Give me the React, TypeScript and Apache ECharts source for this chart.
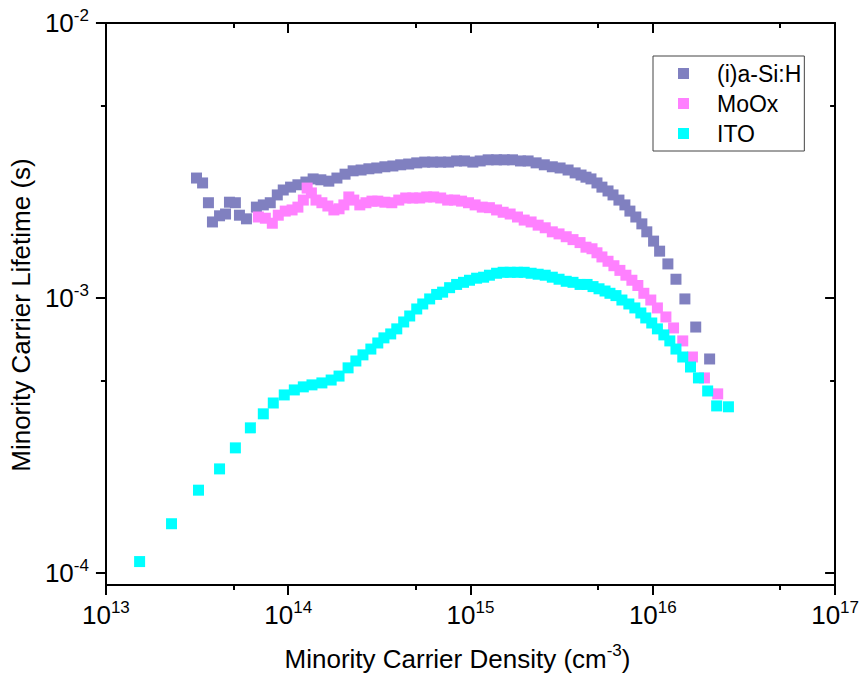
import React, { useEffect, useRef } from "react";
import * as echarts from "echarts";

const seriesNames = ["(i)a-Si:H", "MoOx", "ITO"];
const seriesColors = ["#8080C0", "#FF80FF", "#00FFFF"];

const aSiDensity = [
  3.14e13, 3.39e13, 3.65e13, 3.84e13, 4.2e13, 4.53e13, 4.76e13, 5.13e13, 5.4e13, 5.9e13,
  6.69e13, 7.3e13, 7.97e13, 8.71e13, 9.39e13, 1.03e14, 1.13e14, 1.25e14, 1.37e14, 1.51e14,
  1.67e14, 1.85e14, 2.05e14, 2.27e14, 2.51e14, 2.77e14, 3.06e14, 3.39e14, 3.75e14, 4.14e14,
  4.58e14, 5.07e14, 5.61e14, 6.2e14, 6.86e14, 7.58e14, 8.39e14, 9.27e14, 1.03e15, 1.13e15,
  1.25e15, 1.39e15, 1.53e15, 1.7e15, 1.88e15, 2.07e15, 2.29e15, 2.54e15, 2.81e15, 3.1e15,
  3.43e15, 3.75e15, 4.04e15, 4.3e15, 4.58e15, 4.94e15, 5.26e15, 5.68e15, 6.05e15, 6.52e15,
  7.03e15, 7.49e15, 8.07e15, 8.71e15, 9.27e15, 1.01e16, 1.09e16, 1.21e16, 1.34e16, 1.5e16,
  1.72e16, 2.05e16,
];
const aSiLifetime = [
  2.73e-3, 2.62e-3, 2.22e-3, 1.89e-3, 1.99e-3, 2.02e-3, 2.23e-3, 2.22e-3, 2.0e-3, 1.94e-3,
  2.14e-3, 2.18e-3, 2.22e-3, 2.37e-3, 2.47e-3, 2.53e-3, 2.58e-3, 2.64e-3, 2.71e-3, 2.69e-3,
  2.66e-3, 2.73e-3, 2.82e-3, 2.9e-3, 2.92e-3, 2.95e-3, 2.97e-3, 3.0e-3, 3.02e-3, 3.05e-3,
  3.07e-3, 3.1e-3, 3.12e-3, 3.12e-3, 3.12e-3, 3.12e-3, 3.15e-3, 3.15e-3, 3.12e-3, 3.15e-3,
  3.18e-3, 3.18e-3, 3.18e-3, 3.18e-3, 3.15e-3, 3.15e-3, 3.1e-3, 3.05e-3, 3.0e-3, 2.97e-3,
  2.92e-3, 2.85e-3, 2.8e-3, 2.75e-3, 2.71e-3, 2.62e-3, 2.53e-3, 2.45e-3, 2.37e-3, 2.27e-3,
  2.18e-3, 2.07e-3, 1.97e-3, 1.86e-3, 1.74e-3, 1.61e-3, 1.48e-3, 1.33e-3, 1.17e-3, 9.92e-4,
  7.84e-4, 6.0e-4,
];

const moOxDensity = [
  6.86e13, 7.49e13, 8.18e13, 8.82e13, 9.63e13, 1.05e14, 1.13e14, 1.21e14, 1.27e14, 1.34e14,
  1.42e14, 1.53e14, 1.65e14, 1.78e14, 1.9e14, 2.02e14, 2.15e14, 2.29e14, 2.47e14, 2.67e14,
  2.88e14, 3.1e14, 3.39e14, 3.7e14, 4.04e14, 4.41e14, 4.82e14, 5.26e14, 5.75e14, 6.28e14,
  6.86e14, 7.49e14, 8.18e14, 8.93e14, 9.75e14, 1.06e15, 1.16e15, 1.27e15, 1.39e15, 1.51e15,
  1.65e15, 1.81e15, 1.97e15, 2.15e15, 2.35e15, 2.57e15, 2.81e15, 3.06e15, 3.35e15, 3.65e15,
  3.99e15, 4.3e15, 4.64e15, 4.94e15, 5.26e15, 5.68e15, 6.12e15, 6.6e15, 7.12e15, 7.68e15,
  8.28e15, 8.93e15, 9.75e15, 1.06e16, 1.18e16, 1.3e16, 1.46e16, 1.65e16, 1.92e16, 2.27e16,
];
const moOxLifetime = [
  1.97e-3, 1.95e-3, 1.87e-3, 2.0e-3, 2.07e-3, 2.09e-3, 2.14e-3, 2.27e-3, 2.51e-3, 2.41e-3,
  2.27e-3, 2.22e-3, 2.16e-3, 2.09e-3, 2.11e-3, 2.18e-3, 2.33e-3, 2.27e-3, 2.18e-3, 2.22e-3,
  2.25e-3, 2.25e-3, 2.23e-3, 2.22e-3, 2.27e-3, 2.31e-3, 2.31e-3, 2.31e-3, 2.33e-3, 2.33e-3,
  2.31e-3, 2.27e-3, 2.27e-3, 2.25e-3, 2.22e-3, 2.18e-3, 2.14e-3, 2.13e-3, 2.09e-3, 2.05e-3,
  2.02e-3, 1.97e-3, 1.92e-3, 1.89e-3, 1.84e-3, 1.8e-3, 1.74e-3, 1.71e-3, 1.67e-3, 1.63e-3,
  1.59e-3, 1.53e-3, 1.51e-3, 1.46e-3, 1.41e-3, 1.36e-3, 1.31e-3, 1.26e-3, 1.21e-3, 1.16e-3,
  1.11e-3, 1.04e-3, 9.83e-4, 9.2e-4, 8.53e-4, 7.78e-4, 6.98e-4, 6.1e-4, 5.12e-4, 4.48e-4,
];

const itoDensity = [
  1.53e13, 2.29e13, 3.22e13, 4.2e13, 5.13e13, 6.2e13, 7.3e13, 8.28e13, 9.51e13, 1.08e14,
  1.21e14, 1.35e14, 1.53e14, 1.72e14, 1.9e14, 2.13e14, 2.35e14, 2.57e14, 2.84e14, 3.1e14,
  3.35e14, 3.65e14, 3.94e14, 4.3e14, 4.64e14, 5.07e14, 5.47e14, 5.97e14, 6.52e14, 7.03e14,
  7.68e14, 8.39e14, 9.15e14, 9.87e14, 1.08e15, 1.18e15, 1.27e15, 1.39e15, 1.51e15, 1.65e15,
  1.81e15, 1.97e15, 2.15e15, 2.35e15, 2.57e15, 2.81e15, 3.06e15, 3.35e15, 3.65e15, 3.99e15,
  4.36e15, 4.7e15, 5.07e15, 5.47e15, 5.82e15, 6.28e15, 6.77e15, 7.39e15, 7.97e15, 8.6e15,
  9.15e15, 9.87e15, 1.06e16, 1.15e16, 1.24e16, 1.34e16, 1.46e16, 1.61e16, 1.78e16, 2.0e16,
  2.24e16, 2.6e16,
];
const itoLifetime = [
  1.1e-4, 1.51e-4, 2.0e-4, 2.39e-4, 2.85e-4, 3.37e-4, 3.79e-4, 4.15e-4, 4.44e-4, 4.63e-4,
  4.75e-4, 4.83e-4, 4.91e-4, 5.03e-4, 5.2e-4, 5.57e-4, 5.9e-4, 6.21e-4, 6.52e-4, 6.86e-4,
  7.16e-4, 7.4e-4, 7.72e-4, 8.18e-4, 8.6e-4, 9.12e-4, 9.51e-4, 9.92e-4, 1.03e-3, 1.05e-3,
  1.09e-3, 1.12e-3, 1.14e-3, 1.16e-3, 1.18e-3, 1.19e-3, 1.21e-3, 1.23e-3, 1.24e-3, 1.24e-3,
  1.24e-3, 1.24e-3, 1.23e-3, 1.22e-3, 1.21e-3, 1.19e-3, 1.17e-3, 1.15e-3, 1.14e-3, 1.12e-3,
  1.12e-3, 1.1e-3, 1.08e-3, 1.06e-3, 1.04e-3, 1.02e-3, 9.83e-4, 9.51e-4, 9.2e-4, 8.82e-4,
  8.46e-4, 8.11e-4, 7.72e-4, 7.34e-4, 6.98e-4, 6.52e-4, 6.1e-4, 5.61e-4, 5.12e-4, 4.59e-4,
  4.05e-4, 4.02e-4,
];

const xMin = 1e13;
const xMax = 1e17;
const yMin = 9.04e-5;
const yMax = 1e-2;
const xMajorTicks = [1e13, 1e14, 1e15, 1e16, 1e17];
const xMinorTicks = [5e13, 5e14, 5e15, 5e16];
const yMajorTicks = [1e-4, 1e-3, 1e-2];
const yMinorTicks = [5e-4, 5e-3];

const xTitle = ["Minority Carrier Density (cm", "-3", ")"];
const yTitle = "Minority Carrier Lifetime (s)";

const FONT = "Arial, 'Liberation Sans', sans-serif";

function zip(a: number[], b: number[]) {
  return a.map((v, i) => [v, b[i]]);
}

function powLabel(v: number) {
  const e = Math.round(Math.log10(v));
  return `{b|10}{s|${e}}`;
}

const labelRich = {
  b: { fontSize: 26, color: "#000", fontFamily: FONT },
  s: { fontSize: 17, color: "#000", fontFamily: FONT, padding: [0, 0, 15, 0] },
};

const lineStyle = { color: "#000", width: 2 };

export default function App() {
  const ref = useRef<HTMLDivElement>(null);
  useEffect(() => {
    const chart = echarts.init(ref.current!, null, { renderer: "svg" });
    const mkX = (position: string, major: boolean, primary: boolean): any => ({
      type: "log",
      logBase: 10,
      position,
      min: xMin,
      max: xMax,
      splitLine: { show: false },
      axisLine: { show: major, onZero: false, lineStyle },
      axisTick: {
        show: true,
        inside: !primary,
        length: major ? 10 : 5,
        customValues: major ? xMajorTicks : xMinorTicks,
        lineStyle,
      },
      axisLabel: primary && major
        ? { show: true, customValues: xMajorTicks, formatter: powLabel, margin: 14, rich: labelRich }
        : { show: false },
    });
    const mkY = (position: string, major: boolean, primary: boolean): any => ({
      type: "log",
      logBase: 10,
      position,
      min: yMin,
      max: yMax,
      splitLine: { show: false },
      axisLine: { show: major, onZero: false, lineStyle },
      axisTick: {
        show: true,
        inside: !primary,
        length: major ? 10 : 5,
        customValues: major ? yMajorTicks : yMinorTicks,
        lineStyle,
      },
      axisLabel: primary && major
        ? { show: true, customValues: yMajorTicks, formatter: powLabel, margin: 17, rich: labelRich }
        : { show: false },
    });

    const xAxes = [mkX("bottom", true, true), mkX("bottom", false, true), mkX("top", true, false), mkX("top", false, false)];
    Object.assign(xAxes[0], {
      name: `{t|${xTitle[0]}}{s|${xTitle[1]}}{t|${xTitle[2]}}`,
      nameLocation: "middle",
      nameGap: 57,
      nameTextStyle: {
        padding: [0, 26, 0, 0],
        rich: {
          t: { fontSize: 26, color: "#000", fontFamily: FONT },
          s: { fontSize: 17, color: "#000", fontFamily: FONT, padding: [0, 0, 16, 0] },
        },
      },
    });
    const yAxes = [mkY("left", true, true), mkY("left", false, true), mkY("right", true, false), mkY("right", false, false)];
    Object.assign(yAxes[0], {
      name: yTitle,
      nameLocation: "middle",
      nameGap: 70,
      nameTextStyle: { fontSize: 26, color: "#000", fontFamily: FONT, padding: [0, 22, 0, 0] },
    });

    const datasets = [zip(aSiDensity, aSiLifetime), zip(moOxDensity, moOxLifetime), zip(itoDensity, itoLifetime)];

    chart.setOption({
      animation: false,
      backgroundColor: "#fff",
      textStyle: { fontFamily: FONT },
      grid: { left: 105, right: 25, top: 23, bottom: 92, containLabel: false },
      legend: {
        orient: "vertical",
        left: 653,
        top: 56,
        itemWidth: 11,
        itemHeight: 11,
        itemGap: 7,
        padding: [6, 3, 6, 25],
        borderColor: "#444",
        borderWidth: 1,
        icon: "rect",
        data: seriesNames,
        formatter: (n: string) => `{n|${n}}`,
        textStyle: {
          rich: { n: { fontSize: 23, lineHeight: 22, color: "#000", fontFamily: FONT, padding: [0, 0, 0, 23] } },
        },
      },
      xAxis: xAxes,
      yAxis: yAxes,
      series: seriesNames.map((name, i) => ({
        name,
        type: "scatter",
        xAxisIndex: 0,
        yAxisIndex: 0,
        symbol: "rect",
        symbolSize: 11,
        itemStyle: { color: seriesColors[i], opacity: 1 },
        emphasis: { disabled: true },
        data: datasets[i],
      })),
    });
    return () => chart.dispose();
  }, []);
  return (
    <div
      ref={ref}
      style={{ position: "fixed", left: 0, top: 0, width: 862, height: 677, background: "#fff" }}
    />
  );
}
